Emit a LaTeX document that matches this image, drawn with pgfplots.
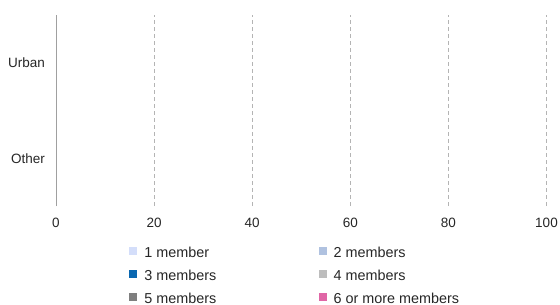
\documentclass[border=0pt]{standalone}
\usepackage{pgfplots}
\pgfplotsset{compat=1.18}
\usepackage{fontspec}
\setmainfont{Liberation Sans}
\definecolor{cA}{HTML}{D4DEFA}
\definecolor{cB}{HTML}{B0C2E0}
\definecolor{cC}{HTML}{0A67B0}
\definecolor{cD}{HTML}{BDBDBD}
\definecolor{cE}{HTML}{7F7F7F}
\definecolor{cF}{HTML}{E066A6}
\definecolor{gridc}{HTML}{B4B4B4}
\definecolor{axc}{HTML}{A0A0A0}
\begin{document}
\begin{tikzpicture}
\path[use as bounding box] (0,0) rectangle (560bp,305bp);
\begin{axis}[
  at={(56bp,99bp)}, anchor=south west,
  scale only axis, width=490.5bp, height=191bp,
  xbar stacked, bar width=40bp,
  xmin=0, xmax=100, ymin=-0.5, ymax=1.5,
  xtick={0,20,40,60,80,100},
  ytick={0,1}, yticklabels={Other,Urban},
  major tick length=0,
  axis lines*=left,
  x axis line style={draw=none},
  y axis line style={draw=axc, line width=0.8bp},
  xmajorgrids,
  major grid style={draw=gridc, dash pattern=on 4bp off 3bp, line width=0.8bp},
  /pgf/number format/assume math mode=true,
  ticklabel style={font=\fontsize{13.5bp}{15bp}\selectfont, text=black!85},
  xticklabel style={yshift=-8.2bp},
  yticklabel style={xshift=-7.5bp},
  legend columns=2,
  legend style={at={(0.149,-0.2162)}, anchor=north west, draw=none, fill=none,
    inner xsep=0pt, inner ysep=0pt,
    font=\fontsize{14.4bp}{16bp}\selectfont, text=black!85,
    nodes={inner sep=0pt, text height=10bp, text depth=3bp},
    row sep=10bp,
    /tikz/every odd column/.append style={column sep=7bp},
    /tikz/every even column/.append style={column sep=0pt},
    cells={anchor=west}},
  legend image code/.code={\fill[#1] (0bp,-1.2bp) rectangle (8bp,6.5bp);},
]
\addplot[fill=cA, draw=none] coordinates {(0,0) (0,1)};
\addplot[fill=cB, draw=none] coordinates {(0,0) (0,1)};
\addplot[fill=cC, draw=none] coordinates {(0,0) (0,1)};
\addplot[fill=cD, draw=none] coordinates {(0,0) (0,1)};
\addplot[fill=cE, draw=none] coordinates {(0,0) (0,1)};
\addplot[fill=cF, draw=none] coordinates {(0,0) (0,1)};
\legend{\makebox[174.3bp][l]{1 member},2 members,\makebox[174.3bp][l]{3 members},4 members,\makebox[174.3bp][l]{5 members},6 or more members}
\end{axis}
\end{tikzpicture}
\end{document}
